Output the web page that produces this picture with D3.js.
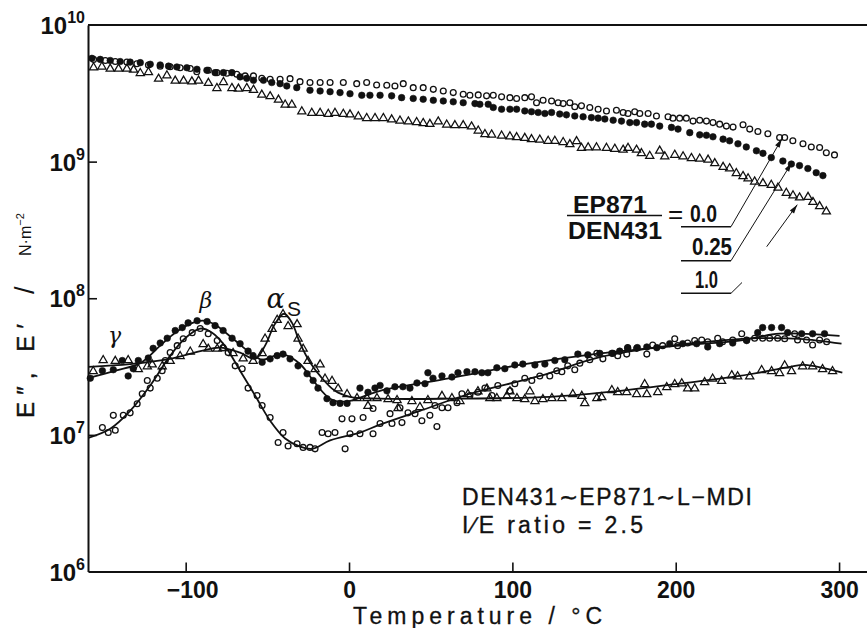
<!DOCTYPE html>
<html>
<head>
<meta charset="utf-8">
<title>E', E'' vs temperature</title>
<style>
body { margin: 0; background: #fff; }
svg { display: block; font-family: "Liberation Sans", Arial, sans-serif; }
</style>
</head>
<body>
<div id="chart"></div>
<script src="https://cdnjs.cloudflare.com/ajax/libs/d3/7.8.5/d3.min.js"></script>
<script>
// storage modulus E' (upper group), [temperature degC, N/m2]
var storage00 = [[-156.4,5.6e9],[-149.2,5.5e9],[-143.1,5.4e9],[-136,5.35e9],[-129.9,5.2e9],[-122.8,5.1e9],[-115.6,5.0e9],[-109.5,4.95e9],[-103.4,4.87e9],[-97.2,4.8e9],[-93.2,4.55e9],[-86.1,4.66e9],[-80.9,4.48e9],[-74.8,4.43e9],[-68.7,4.36e9],[-63.6,4.24e9],[-58.5,4.24e9],[-53.4,4.07e9],[-48.3,4.0e9],[-42.2,4.0e9],[-36.1,4.05e9],[-30,3.85e9],[-23.9,3.79e9],[-17.7,3.79e9],[-11.6,3.79e9],[-3.5,3.79e9],[4.7,3.72e9],[10.8,3.79e9],[16.9,3.64e9],[23.1,3.62e9],[28.1,3.58e9],[33.2,3.72e9],[39.3,3.48e9],[45.4,3.48e9],[51.6,3.38e9],[57.7,3.29e9],[63.8,3.2e9],[69.9,3.11e9],[74,3.06e9],[79.1,3.08e9],[84.2,3.03e9],[88.3,3.06e9],[93.4,2.98e9],[98.5,2.94e9],[102.6,2.9e9],[107.6,2.94e9],[111.7,2.98e9],[114.8,2.7e9],[118.8,2.81e9],[124,2.78e9],[128,2.7e9],[131.1,2.66e9],[135.2,2.7e9],[138.2,2.52e9],[142.3,2.56e9],[147.4,2.49e9],[152.5,2.42e9],[157.6,2.35e9],[163.7,2.38e9],[167.8,2.29e9],[170.8,2.25e9],[174.9,2.32e9],[178,2.25e9],[183.1,2.25e9],[188.2,2.16e9],[195.3,2.13e9],[198.3,2.08e9],[202.4,2.08e9],[206.5,2.08e9],[210.6,1.98e9],[214.7,2.01e9],[218.8,1.98e9],[222.8,1.93e9],[226.9,1.88e9],[231,1.82e9],[235.1,1.79e9],[241.2,1.86e9],[245.3,1.73e9],[250.3,1.66e9],[256.4,1.6e9],[263.6,1.5e9],[266.7,1.5e9],[271.7,1.42e9],[277.9,1.35e9],[283,1.28e9],[288.1,1.27e9],[292.2,1.16e9],[297.2,1.12e9]];
var storage025 = [[-157.4,5.7e9],[-152.3,5.6e9],[-146.2,5.5e9],[-140.1,5.4e9],[-134,5.35e9],[-127.8,5.3e9],[-121.7,5.16e9],[-115.6,5.1e9],[-110.5,5.0e9],[-105.4,4.93e9],[-99.3,4.87e9],[-93.1,4.74e9],[-87,4.66e9],[-82,4.48e9],[-76.9,4.48e9],[-71.7,4.48e9],[-66.7,4.17e9],[-62.6,4.07e9],[-58.5,3.94e9],[-52.4,3.94e9],[-47.3,3.79e9],[-42.2,3.72e9],[-38.1,3.58e9],[-32,3.48e9],[-23.9,3.33e9],[-17.7,3.29e9],[-11.6,3.25e9],[-5.5,3.2e9],[0.6,3.14e9],[7.8,3.06e9],[12.8,3.06e9],[19,3.06e9],[26.1,3.03e9],[32.2,2.94e9],[39.3,2.9e9],[45.4,2.86e9],[51.6,2.81e9],[57.7,2.78e9],[63.8,2.74e9],[69.9,2.7e9],[77.1,2.66e9],[80.1,2.63e9],[85.2,2.63e9],[88.3,2.49e9],[93.4,2.42e9],[98.5,2.42e9],[102.6,2.42e9],[107.6,2.35e9],[111.7,2.32e9],[115.8,2.29e9],[119.9,2.25e9],[124,2.29e9],[129,2.23e9],[133.1,2.2e9],[138.2,2.16e9],[143.3,2.13e9],[148.4,2.1e9],[152.5,2.08e9],[156.6,2.05e9],[161.7,2.01e9],[166.8,1.98e9],[171.9,1.93e9],[176,1.93e9],[181,1.88e9],[185.1,1.88e9],[190.2,1.82e9],[197.4,1.78e9],[201.4,1.73e9],[208.6,1.63e9],[214.7,1.57e9],[218.8,1.56e9],[222.8,1.52e9],[229,1.46e9],[233,1.42e9],[238.1,1.35e9],[243.2,1.28e9],[249.4,1.2e9],[253.4,1.15e9],[258.5,1.07e9],[265.6,1.01e9],[270.8,9.6e8],[275.8,9.35e8],[280.9,8.9e8],[286,8.3e8],[290.1,7.9e8]];
var storage10 = [[-156.4,4.93e9],[-151.3,5.0e9],[-146.2,4.82e9],[-141.1,4.82e9],[-136,4.82e9],[-131.9,4.74e9],[-127.8,4.48e9],[-122.8,4.55e9],[-116.6,4.07e9],[-111.5,4.31e9],[-106.4,3.94e9],[-101.3,3.94e9],[-96.2,3.89e9],[-92.1,3.94e9],[-86.1,3.79e9],[-80.9,3.48e9],[-76.9,3.85e9],[-71.7,3.48e9],[-67.7,3.44e9],[-62.6,3.48e9],[-58.5,3.38e9],[-53.4,3.11e9],[-48.3,3.03e9],[-43.2,2.86e9],[-39.1,2.63e9],[-35,2.63e9],[-28.9,2.35e9],[-22.8,2.29e9],[-17.7,2.29e9],[-12.7,2.25e9],[-8.6,2.29e9],[-3.5,2.25e9],[0.6,2.23e9],[5.7,2.16e9],[10.8,2.1e9],[15.9,2.1e9],[21,2.1e9],[26.1,2.05e9],[31.2,2.01e9],[36.3,1.98e9],[41.4,1.96e9],[45.4,1.93e9],[49.5,1.9e9],[54.6,1.98e9],[59.8,1.88e9],[64.8,1.86e9],[69.9,1.86e9],[75,1.82e9],[79.1,1.7e9],[83.2,1.6e9],[87.3,1.59e9],[93.4,1.56e9],[98.5,1.54e9],[102.6,1.52e9],[107.6,1.5e9],[111.7,1.47e9],[116.8,1.46e9],[121.9,1.43e9],[126,1.43e9],[131.1,1.4e9],[135.2,1.35e9],[139.3,1.42e9],[142.3,1.27e9],[146.4,1.28e9],[151.5,1.28e9],[157.6,1.27e9],[162.7,1.25e9],[167.8,1.23e9],[170.8,1.27e9],[176,1.23e9],[179,1.16e9],[184.1,1.11e9],[190.2,1.21e9],[193.3,1.1e9],[199.4,1.13e9],[204.5,1.1e9],[209.6,1.07e9],[214.7,1.06e9],[219.8,1.04e9],[223.9,9.8e8],[229,9.2e8],[233,9.0e8],[237.1,8.3e8],[241.2,7.9e8],[244.3,7.6e8],[248.3,7.2e8],[253.4,7.0e8],[258.5,6.8e8],[262.6,6.5e8],[267.7,5.95e8],[271.8,5.7e8],[275.8,5.5e8],[281,5.55e8],[284,5.1e8],[288.1,4.75e8],[292.2,4.35e8]];

// loss modulus E'' (lower group), measured points
var loss00 = [[-151,1.13e7],[-147.4,1.04e7],[-143.1,1.08e7],[-144.3,1.39e7],[-138.2,1.39e7],[-134,1.45e7],[-129.7,1.69e7],[-126.6,2.0e7],[-123.5,2.5e7],[-121.7,2.2e7],[-117.4,2.6e7],[-114.4,2.95e7],[-112.5,3.5e7],[-109.5,4.0e7],[-105.2,4.5e7],[-101.5,5.05e7],[-96,5.6e7],[-91.1,6.0e7],[-86.2,5.5e7],[-80.7,4.9e7],[-77.1,4.35e7],[-74,4.0e7],[-69.7,3.2e7],[-65.4,3.05e7],[-61.8,2.2e7],[-56.3,1.94e7],[-53.2,1.64e7],[-48.3,1.34e7],[-43.4,8.8e6],[-40.4,1.04e7],[-37.3,8.3e6],[-31.8,8.6e6],[-28.1,8.1e6],[-23.9,8.1e6],[-20.8,7.9e6],[-16.5,1.04e7],[-12.8,1.02e7],[-8.6,1.04e7],[-4.3,1.31e7],[-2.4,7.9e6],[0.6,1.02e7],[1.8,1.31e7],[6.7,1.02e7],[8.6,1.34e7],[14.7,1.02e7],[14.7,1.56e7],[19,1.21e7],[25.1,1.43e7],[26.3,1.21e7],[31.2,1.58e7],[32.4,1.23e7],[36.1,1.45e7],[40.4,1.43e7],[44.6,1.27e7],[49.5,1.39e7],[52.6,1.64e7],[53.8,1.15e7],[56.9,1.58e7],[60.6,1.58e7],[66.1,1.72e7],[69.1,2.0e7],[74,1.94e7],[78.9,2.05e7],[83.2,2.2e7],[87.5,1.94e7],[91.1,2.3e7],[98.5,2.1e7],[101.5,2.37e7],[107.6,2.6e7],[111.9,2.5e7],[116.8,2.7e7],[122.9,2.7e7],[127.2,2.95e7],[130.3,2.9e7],[133.9,3.2e7],[138.2,3.0e7],[141.3,3.35e7],[147.4,3.55e7],[151.7,3.95e7],[155.4,3.6e7],[161.5,3.95e7],[164.5,3.8e7],[170,3.9e7],[170.6,4.35e7],[176.1,4.3e7],[182.3,3.9e7],[185.9,4.55e7],[192,4.5e7],[199.4,5.05e7],[201.2,4.5e7],[207.3,4.7e7],[211.6,4.9e7],[215.9,4.95e7],[219.6,4.8e7],[225.7,5.1e7],[228.7,4.8e7],[234.9,4.95e7],[240.4,5.5e7],[243.4,4.95e7],[248.3,5.1e7],[253.2,5.1e7],[257.5,5.1e7],[262.4,5.1e7],[266.7,5.05e7],[272.8,5.5e7],[274.6,4.95e7],[280.1,4.95e7],[283.8,4.55e7],[288.1,4.95e7],[292.4,4.8e7]];
var loss025 = [[-158.4,2.6e7],[-151,2.95e7],[-144.3,3.0e7],[-138.8,3.5e7],[-135.2,2.7e7],[-132.1,3.05e7],[-129,3.5e7],[-122.9,3.65e7],[-119.9,4.3e7],[-115.6,4.7e7],[-111.3,5.1e7],[-106.4,5.8e7],[-102.1,6.1e7],[-98.5,6.6e7],[-93,6.85e7],[-86.9,6.75e7],[-82,6.3e7],[-77.1,5.8e7],[-71.6,5.1e7],[-66.7,4.65e7],[-61.8,4.1e7],[-58.7,3.8e7],[-53.2,3.4e7],[-48.3,3.6e7],[-44,3.8e7],[-40.4,3.9e7],[-36.1,3.6e7],[-31.2,3.2e7],[-25.7,2.8e7],[-22,2.5e7],[-19,2.2e7],[-13.5,1.84e7],[-9.8,1.72e7],[-5.5,1.7e7],[-1.2,1.7e7],[6.7,2.2e7],[11.6,2.05e7],[15.9,2.2e7],[19,2.3e7],[23.2,2.1e7],[28.1,2.25e7],[33,2.25e7],[37.3,2.2e7],[41.6,2.4e7],[46.5,2.37e7],[48.3,2.85e7],[51.4,2.6e7],[56.9,2.7e7],[63,2.65e7],[66.7,2.85e7],[72.2,2.9e7],[77.1,2.9e7],[81.3,2.85e7],[85,2.85e7],[90.5,3.1e7],[95.4,3.05e7],[101.5,3.25e7],[106.4,3.3e7],[113.8,3.25e7],[119.9,3.3e7],[126,3.5e7],[132.1,3.55e7],[140.1,3.9e7],[146.2,3.85e7],[153.5,3.95e7],[160.9,3.95e7],[165.7,4.1e7],[170.6,4.3e7],[176.5,4.35e7],[182.3,4.4e7],[188.4,4.35e7],[196.3,4.65e7],[204.3,4.65e7],[212.8,4.65e7],[219.6,4.4e7],[226.9,4.65e7],[234.9,4.7e7],[243.4,4.9e7],[250.2,5.6e7],[253.2,6.1e7],[258.7,6.1e7],[264.8,6.1e7],[268.5,5.6e7],[277.1,5.5e7],[283.8,5.5e7],[291.1,5.5e7]];
var loss10 = [[-156.6,2.95e7],[-150.5,3.55e7],[-143.1,3.5e7],[-135.2,3.55e7],[-129,3.05e7],[-123.5,3.2e7],[-120.5,3.3e7],[-114.4,3.2e7],[-109.5,3.5e7],[-103.4,3.8e7],[-97.2,4.1e7],[-89.3,4.65e7],[-86.2,4.3e7],[-80.7,4.3e7],[-77.1,4.35e7],[-71,4.0e7],[-64.8,3.65e7],[-58.7,3.5e7],[-53.2,4.0e7],[-51.4,5.1e7],[-47.1,6.0e7],[-44,7.0e7],[-40.4,7.7e7],[-37.3,6.3e7],[-31.8,6.5e7],[-31.2,5.1e7],[-28.1,4.3e7],[-25.1,3.5e7],[-20.8,3.05e7],[-17.7,3.3e7],[-14.7,2.6e7],[-10.4,2.5e7],[-6.7,2.2e7],[-1.2,2.0e7],[4.9,1.87e7],[11,1.87e7],[11.6,1.64e7],[17.1,1.87e7],[23.9,1.84e7],[29.4,1.81e7],[30,1.58e7],[38.5,1.78e7],[43.4,1.61e7],[48.3,1.81e7],[56.9,1.94e7],[63,1.87e7],[67.9,1.78e7],[72.8,2.0e7],[78.9,2.1e7],[84.4,2.2e7],[86.2,1.87e7],[90.5,1.87e7],[96.6,1.94e7],[98.5,2.1e7],[102.8,1.87e7],[107.6,1.84e7],[110.7,2.1e7],[113.8,1.78e7],[118.7,1.84e7],[124.2,1.87e7],[130.3,1.87e7],[137,2.0e7],[142.5,1.94e7],[144.3,1.72e7],[151.7,1.87e7],[154.7,1.9e7],[160.9,2.14e7],[164.5,2.07e7],[170,2.07e7],[176.1,2.0e7],[181,2.37e7],[182.3,2.0e7],[189,2.07e7],[194.5,2.25e7],[199.4,2.37e7],[203.7,2.4e7],[207.3,2.2e7],[211.6,2.2e7],[217.7,2.45e7],[222.6,2.6e7],[228.1,2.5e7],[234.3,2.75e7],[237.9,2.7e7],[245.3,2.7e7],[252.6,3.0e7],[258.7,2.95e7],[263.6,2.85e7],[266.7,3.25e7],[270.9,2.95e7],[277.7,3.2e7],[283.8,3.2e7],[289.9,3.05e7],[296,2.95e7]];

// smooth E'' curves drawn through the points
var fit00 = [[-159.6,9.5e6],[-146.2,1.11e7],[-134,1.5e7],[-121.7,2.3e7],[-109.5,3.8e7],[-100.3,5.1e7],[-91.1,6.0e7],[-83.8,5.6e7],[-76.1,4.5e7],[-66.7,2.95e7],[-57.5,1.94e7],[-48.3,1.27e7],[-39.1,9.4e6],[-30,8.2e6],[-22.6,7.9e6],[-11.6,9.1e6],[6.7,1.04e7],[19,1.19e7],[43.4,1.5e7],[74,2.0e7],[116.8,2.7e7],[153.5,3.7e7],[190.2,4.4e7],[226.9,4.9e7],[251.4,5.1e7],[275.8,5.05e7],[301.5,4.65e7]];
var fit025 = [[-159.6,2.6e7],[-143.1,2.95e7],[-127.8,3.35e7],[-115.6,4.5e7],[-106.4,5.6e7],[-97.2,6.5e7],[-89.3,6.85e7],[-82,6.4e7],[-69.7,4.9e7],[-60.6,4.0e7],[-53.2,3.55e7],[-45.3,3.8e7],[-39.2,3.85e7],[-30,3.3e7],[-20.8,2.4e7],[-11.6,1.84e7],[-2.4,1.75e7],[19,2.1e7],[62,2.6e7],[104.6,3.25e7],[153.5,3.95e7],[202.4,4.5e7],[239,4.9e7],[263.6,5.5e7],[300.3,5.3e7]];
var fit10 = [[-159.6,3.15e7],[-134,3.3e7],[-109.5,3.6e7],[-91,4.1e7],[-79,4.35e7],[-66.7,4.0e7],[-57.5,3.6e7],[-51.4,4.5e7],[-45.3,6.5e7],[-39.8,7.7e7],[-34.9,6.6e7],[-30,4.7e7],[-23.9,3.4e7],[-17.7,2.7e7],[-8.6,2.1e7],[0.6,1.9e7],[19,1.84e7],[62,1.84e7],[123,1.9e7],[166,2.1e7],[202,2.37e7],[239,2.7e7],[270,3.15e7],[279,3.25e7],[302,2.85e7]];

var xTicks = [-100, 0, 100, 200, 300];
var yTickExp = [6, 7, 8, 9, 10];
var ratioLabels = ["0.0", "0.25", "1.0"];
// arrow tips of the ratio labels, on the E' curves
var arrowTips = [[265, 1.47e9], [271, 9.8e8], [274.4, 4.84e8]];

var W = 867, H = 628;
var margin = {top: 25, right: 0, bottom: 56.5, left: 88};
var width = W - margin.left - margin.right,
	height = H - margin.top - margin.bottom;

var svg = d3.select("#chart")
			.append("svg")
			.attr("width", W)
			.attr("height", H);

var g = svg.append("g")
	.attr("transform", "translate(" + margin.left + "," + margin.top + ")");

var x = d3.scaleLinear().domain([-159.8, 317.1]).range([0, width]);
var y = d3.scaleLog().domain([1e6, 1e10]).range([height, 0]);

var ink = "#111";

// axes
var xAxis = g.append("g")
	.attr("transform", "translate(0," + height + ")")
	.call(d3.axisBottom(x).tickValues(xTicks).tickSize(-9).tickSizeOuter(0).tickPadding(10)
		.tickFormat(function(d){ return d < 0 ? "\u2212" + Math.abs(d) : d; }));
xAxis.attr("font-family", null).attr("font-size", null);
xAxis.select(".domain").attr("stroke", ink).attr("stroke-width", 2);
xAxis.selectAll(".tick line").attr("stroke", ink).attr("stroke-width", 1.6);
xAxis.selectAll(".tick text")
	.attr("font-size", 23)
	.attr("font-weight", "bold")
	.attr("fill", ink)
	.attr("dx", function(d){ return d < 0 ? 6.5 : 0; });

var yAxis = g.append("g")
	.call(d3.axisLeft(y).tickValues([1e7, 1e8, 1e9]).tickSize(-9).tickSizeOuter(0).tickFormat(""));
yAxis.select(".domain").attr("stroke", ink).attr("stroke-width", 2);
yAxis.selectAll(".tick line").attr("stroke", ink).attr("stroke-width", 1.6);

// top frame line
g.append("line")
	.attr("x1", 0).attr("x2", width)
	.attr("y1", y(1e10)).attr("y2", y(1e10))
	.attr("stroke", ink).attr("stroke-width", 1.8);

// y tick labels 10^n
var ylab = g.selectAll(".ylab")
	.data(yTickExp)
	.enter()
	.append("text")
	.attr("class", "ylab")
	.attr("x", -3)
	.attr("y", function(d){ return y(Math.pow(10, d)) + 9; })
	.attr("text-anchor", "end")
	.attr("font-size", 24)
	.attr("font-weight", "bold")
	.attr("fill", ink);
ylab.append("tspan").text("10");
ylab.append("tspan").attr("font-size", 16).attr("dy", -11).text(function(d){ return d; });

// axis titles
svg.append("text")
	.attr("x", 353).attr("y", 624)
	.attr("font-size", 23)
	.attr("fill", ink)
	.attr("stroke", ink).attr("stroke-width", 0.3)
	.attr("textLength", 249)
	.attr("lengthAdjust", "spacing")
	.text("Temperature / \u00B0C");

var ytitle = svg.append("g").attr("transform", "translate(34,0) rotate(-90)");
ytitle.append("text")
	.attr("x", -418).attr("y", 0)
	.attr("font-size", 24).attr("fill", ink)
	.attr("stroke", ink).attr("stroke-width", 0.4)
	.attr("textLength", 94).attr("lengthAdjust", "spacing")
	.text("E\u2033, E\u2032");
ytitle.append("text")
	.attr("x", -294).attr("y", 0)
	.attr("font-size", 27).attr("fill", ink)
	.text("/");
var unit = ytitle.append("text")
	.attr("x", -256).attr("y", -3)
	.attr("font-size", 16).attr("fill", ink);
unit.append("tspan").text("N\u00B7m");
unit.append("tspan").attr("font-size", 11).attr("dy", -7).text("\u2212" + "2");

// E'' fitted curves
var line = d3.line()
	.x(function(d){ return x(d[0]); })
	.y(function(d){ return y(d[1]); })
	.curve(d3.curveCatmullRom.alpha(0.5));

[fit00, fit025, fit10].forEach(function(f){
	g.append("path")
		.datum(f)
		.attr("d", line)
		.attr("fill", "none")
		.attr("stroke", ink)
		.attr("stroke-width", 1.8);
});

// markers
function drawCircles(data, filled){
	g.append("g").selectAll("circle")
		.data(data)
		.enter()
		.append("circle")
		.attr("cx", function(d){ return x(d[0]); })
		.attr("cy", function(d){ return y(d[1]); })
		.attr("r", filled ? 3.3 : 2.9)
		.attr("fill", filled ? ink : "none")
		.attr("stroke", ink)
		.attr("stroke-width", filled ? 0.6 : 1.3);
}
function drawTriangles(data){
	g.append("g").selectAll("path")
		.data(data)
		.enter()
		.append("path")
		.attr("d", "M0,-4.2L4.1,2.9L-4.1,2.9Z")
		.attr("transform", function(d){ return "translate(" + x(d[0]) + "," + y(d[1]) + ")"; })
		.attr("fill", "none")
		.attr("stroke", ink)
		.attr("stroke-width", 1.25);
}
drawCircles(storage00, false);
drawCircles(storage025, true);
drawTriangles(storage10);
drawCircles(loss00, false);
drawCircles(loss025, true);
drawTriangles(loss10);

// relaxation labels
var greek = "'DejaVu Serif', serif";
g.append("text").attr("x", x(-147.5)).attr("y", y(4.7e7))
	.attr("font-family", greek).attr("font-style", "italic").attr("font-size", 22).attr("fill", ink).text("\u03B3");
g.append("text").attr("x", x(-91.5)).attr("y", y(8.5e7))
	.attr("font-family", greek).attr("font-style", "italic").attr("font-size", 22).attr("fill", ink).text("\u03B2");
g.append("text").attr("x", x(-50.5)).attr("y", y(8.5e7))
	.attr("font-family", greek).attr("font-style", "italic").attr("font-size", 27).attr("fill", ink).text("\u03B1");
g.append("text").attr("x", x(-38)).attr("y", y(7.45e7))
	.attr("font-size", 21).attr("fill", ink).text("S");

// sample description
svg.append("text").attr("x", 462).attr("y", 505)
	.attr("font-size", 23).attr("fill", ink)
	.attr("stroke", ink).attr("stroke-width", 0.35)
	.attr("textLength", 290).attr("lengthAdjust", "spacing")
	.text("DEN431\u223CEP871\u223CL\u2212MDI");
svg.append("text").attr("x", 462).attr("y", 533)
	.attr("font-size", 23).attr("fill", ink)
	.attr("stroke", ink).attr("stroke-width", 0.35)
	.attr("textLength", 181).attr("lengthAdjust", "spacing")
	.text("I\u2215E ratio = 2.5");

// ratio legend
svg.append("text").attr("x", 573).attr("y", 212.5).attr("font-size", 23).attr("font-weight", "bold").attr("fill", ink)
	.attr("textLength", 74).attr("lengthAdjust", "spacingAndGlyphs").text("EP871");
svg.append("line").attr("x1", 567).attr("x2", 662).attr("y1", 215.5).attr("y2", 215.5)
	.attr("stroke", ink).attr("stroke-width", 1.6);
svg.append("text").attr("x", 568).attr("y", 239).attr("font-size", 23).attr("font-weight", "bold").attr("fill", ink)
	.attr("textLength", 94).attr("lengthAdjust", "spacingAndGlyphs").text("DEN431");
svg.append("text").attr("x", 668).attr("y", 223).attr("font-size", 26).attr("fill", ink).text("=");

var labPos = [{tx: 690, ty: 222, w: 27, uy: 226.7}, {tx: 692, ty: 255, w: 40, uy: 260.7}, {tx: 695, ty: 288, w: 23, uy: 293.3}];
ratioLabels.forEach(function(lab, i){
	var p = labPos[i];
	svg.append("text").attr("x", p.tx).attr("y", p.ty)
		.attr("font-size", 24).attr("font-weight", "bold").attr("fill", ink)
		.attr("textLength", p.w).attr("lengthAdjust", "spacingAndGlyphs")
		.text(lab);
	svg.append("line").attr("x1", 681).attr("x2", 731).attr("y1", p.uy).attr("y2", p.uy)
		.attr("stroke", ink).attr("stroke-width", 1.5);
});

function arrow(x0, y0, x1, y1){
	svg.append("line").attr("x1", x0).attr("y1", y0).attr("x2", x1).attr("y2", y1)
		.attr("stroke", ink).attr("stroke-width", 1);
	var a = Math.atan2(y1 - y0, x1 - x0), L = 9, w = 2.6;
	var bx = x1 - L * Math.cos(a), by = y1 - L * Math.sin(a);
	var px = -Math.sin(a) * w, py = Math.cos(a) * w;
	svg.append("path")
		.attr("d", "M" + x1 + "," + y1 + "L" + (bx + px) + "," + (by + py) + "L" + (bx - px) + "," + (by - py) + "Z")
		.attr("fill", ink);
}
var tip = arrowTips.map(function(t){ return [margin.left + x(t[0]), margin.top + y(t[1])]; });
arrow(731, 226.7, tip[0][0], tip[0][1]);
arrow(731, 260.7, tip[1][0], tip[1][1]);
svg.append("line").attr("x1", 731).attr("y1", 293.3).attr("x2", 742).attr("y2", 282.5)
	.attr("stroke", ink).attr("stroke-width", 1);
arrow(766.7, 246.7, tip[2][0], tip[2][1]);
</script>
</body>
</html>
